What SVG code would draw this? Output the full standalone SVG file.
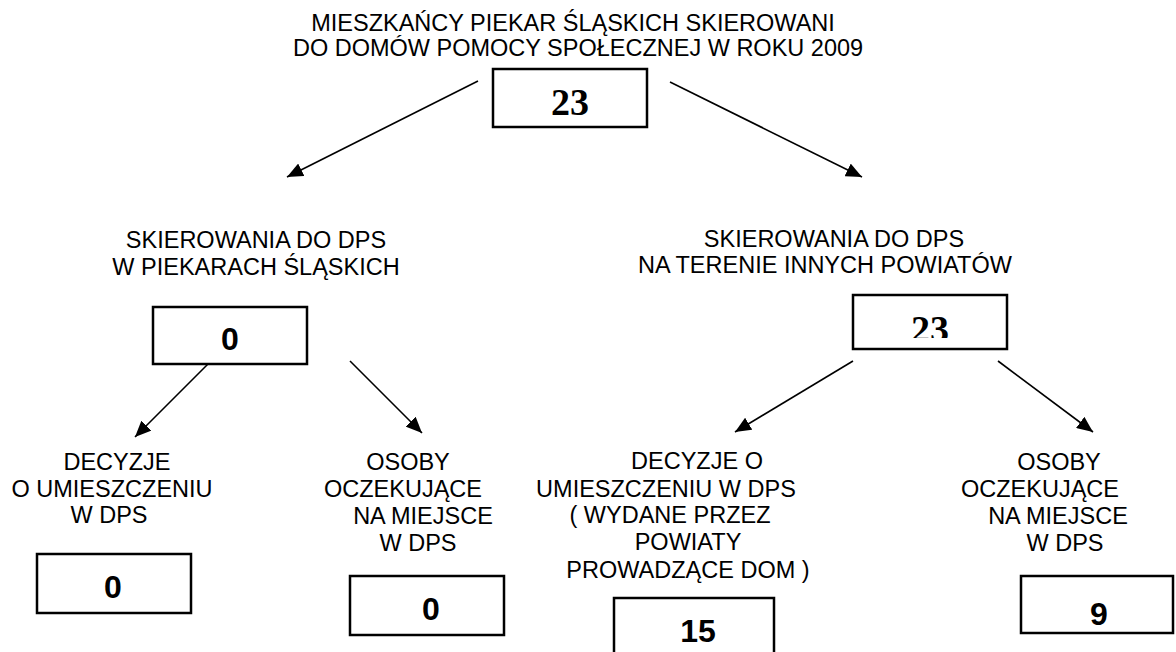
<svg xmlns="http://www.w3.org/2000/svg" width="1176" height="652" viewBox="0 0 1176 652">
<style>
.t{font-family:"Liberation Sans",Arial,sans-serif;font-size:23.5px;fill:#000;text-anchor:middle}
.n{font-family:"Liberation Sans",Arial,sans-serif;font-size:32px;font-weight:bold;fill:#000;text-anchor:middle}
.s{font-family:"Liberation Serif","Times New Roman",serif;font-size:38px;font-weight:bold;fill:#000;text-anchor:middle}
.box{fill:#fff;stroke:#000;stroke-width:2.5}
.c{stroke:#000;stroke-width:1.6;fill:none;marker-end:url(#ah)}
</style>
<defs>
<marker id="ah" viewBox="0 0 16 14" refX="16" refY="7" markerWidth="16" markerHeight="14" markerUnits="userSpaceOnUse" orient="auto">
<path d="M0,0 L16,7 L0,14 z" fill="#000"/>
</marker>
<clipPath id="cl23"><rect x="853" y="295" width="154" height="43"/></clipPath>
</defs>
<rect width="1176" height="652" fill="#fff"/>
<g id="connectors">
<line class="c" x1="478" y1="81" x2="287" y2="177"/>
<line class="c" x1="670" y1="82" x2="862" y2="177"/>
<line class="c" x1="210" y1="362" x2="135" y2="437"/>
<line class="c" x1="350" y1="361" x2="422" y2="433"/>
<line class="c" x1="853" y1="361" x2="735" y2="432"/>
<line class="c" x1="998" y1="361" x2="1093" y2="432"/>
</g>
<g id="root">
<text class="t" x="573" y="31">MIESZKAŃCY PIEKAR ŚLĄSKICH SKIEROWANI</text>
<text class="t" x="578" y="56">DO DOMÓW POMOCY SPOŁECZNEJ W ROKU 2009</text>
<rect class="box" x="493" y="69" width="154" height="58"/>
<text class="s" x="570" y="115">23</text>
</g>
<g id="local">
<text class="t" x="256" y="248">SKIEROWANIA DO DPS</text>
<text class="t" x="256" y="275">W PIEKARACH ŚLĄSKICH</text>
<rect class="box" x="153" y="307" width="154" height="57"/>
<text class="n" x="230" y="350">0</text>
</g>
<g id="other">
<text class="t" x="834" y="247">SKIEROWANIA DO DPS</text>
<text class="t" x="825" y="273">NA TERENIE INNYCH POWIATÓW</text>
<rect class="box" x="853" y="295" width="154" height="54"/>
<text class="s" x="930" y="342" clip-path="url(#cl23)">23</text>
</g>
<g id="local-decisions">
<text class="t" x="117" y="470">DECYZJE</text>
<text class="t" x="112" y="497">O UMIESZCZENIU</text>
<text class="t" x="109" y="523">W DPS</text>
<rect class="box" x="37" y="554" width="154" height="59"/>
<text class="n" x="113" y="598">0</text>
</g>
<g id="local-waiting">
<text class="t" x="408" y="470">OSOBY</text>
<text class="t" x="403" y="497">OCZEKUJĄCE</text>
<text class="t" x="423" y="524">NA MIEJSCE</text>
<text class="t" x="418" y="551">W DPS</text>
<rect class="box" x="350" y="576" width="154" height="59"/>
<text class="n" x="431" y="620">0</text>
</g>
<g id="other-decisions">
<text class="t" x="697" y="469">DECYZJE O</text>
<text class="t" x="666" y="497">UMIESZCZENIU W DPS</text>
<text class="t" x="670" y="523">( WYDANE PRZEZ</text>
<text class="t" x="688" y="550">POWIATY</text>
<text class="t" x="688" y="578">PROWADZĄCE DOM )</text>
<rect class="box" x="614" y="598" width="160" height="62"/>
<text class="n" x="698" y="642">15</text>
</g>
<g id="other-waiting">
<text class="t" x="1059" y="470">OSOBY</text>
<text class="t" x="1040" y="497">OCZEKUJĄCE</text>
<text class="t" x="1058" y="524">NA MIEJSCE</text>
<text class="t" x="1065" y="551">W DPS</text>
<rect class="box" x="1021" y="576" width="152" height="57"/>
<text class="n" x="1099" y="625">9</text>
</g>
</svg>
